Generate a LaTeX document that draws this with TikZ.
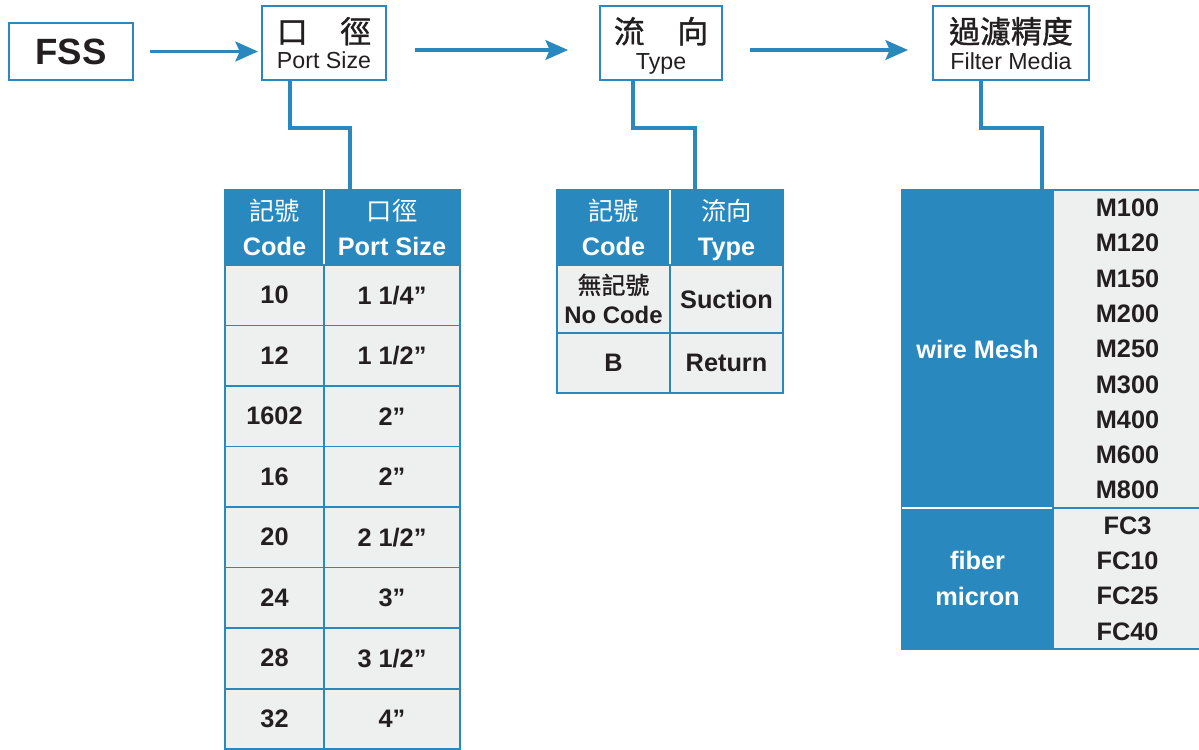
\documentclass[tikz,border=0pt]{standalone}
\usepackage{fontspec}
\setmainfont{Liberation Sans}
\newfontfamily\cjk{Noto Sans CJK TC}
\newfontfamily\cjkb[FakeBold=1.2]{Noto Sans CJK TC}
\usepackage{tikz}
\usetikzlibrary{arrows.meta,positioning}
\definecolor{fsblue}{RGB}{41,137,190}
\definecolor{fsgray}{RGB}{238,239,239}
\definecolor{fsink}{RGB}{35,31,32}
\tikzstyle{codebox} = [rectangle, draw=fsblue, line width=1.7pt, fill=white, text=fsink, align=center, inner sep=0pt, outer sep=0pt, text depth=0pt]
\tikzstyle{arrow} = [line width=2.5pt, -{Stealth[length=16pt,width=14pt,inset=3pt]}, color=fsblue]
\tikzstyle{link} = [line width=2.4pt, color=fsblue]
\tikzstyle{headcell} = [rectangle, draw=fsblue, fill=fsblue, line width=1.4pt, text=white, align=center, inner sep=0pt, outer sep=0pt, text depth=0pt, font=\fontsize{18}{25}\selectfont\bfseries]
\tikzstyle{datacell} = [rectangle, draw=fsblue, fill=fsgray, line width=1.4pt, text=fsink, align=center, inner sep=0pt, outer sep=0pt, font=\fontsize{18}{25}\selectfont\bfseries]

\begin{document}
\begin{tikzpicture}
\useasboundingbox (0,0) rectangle (29.975,-18.725);

% Model code boxes
\node[codebox, minimum width=3.1cm, minimum height=1.425cm, font=\fontsize{26}{30}\selectfont\bfseries] (fss) at (1.775,-1.2875) {FSS};
\node[codebox, minimum width=3.1cm, minimum height=1.85cm, font=\fontsize{16.5}{18.5}\selectfont] (port) at (8.1,-1.075) {{\cjkb\fontsize{22}{22}\selectfont 口\hspace{1.05em}徑}\\Port Size};
\node[codebox, minimum width=3.05cm, minimum height=1.85cm, font=\fontsize{16.5}{18.5}\selectfont] (type) at (16.525,-1.075) {{\cjkb\fontsize{22}{22}\selectfont 流\hspace{1.05em}向}\\Type};
\node[codebox, minimum width=3.9cm, minimum height=1.85cm, font=\fontsize{16.5}{18.5}\selectfont] (filter) at (25.275,-1.075) {{\cjkb\fontsize{22}{22}\selectfont 過濾精度}\\Filter Media};

% Arrows
\draw[arrow, shorten <=0.425cm, shorten >=0.1cm] (fss.east) -- (port.west |- fss.east);
\draw[arrow, shorten <=0.725cm, shorten >=0.8cm] ([yshift=-0.175cm]port.east) -- ([yshift=-0.175cm]type.west);
\draw[arrow, shorten <=0.7cm, shorten >=0.625cm] ([yshift=-0.175cm]type.east) -- ([yshift=-0.175cm]filter.west);

% Port size table
\node[headcell, minimum width=2.475cm, minimum height=1.875cm] (codehead) at (6.8625,-5.6875) {{\cjk\mdseries 記號}\\Code};
\node[headcell, minimum width=3.4cm, minimum height=1.875cm] (sizehead) at (9.8,-5.6875) {{\cjk\mdseries 口徑}\\Port Size};
\draw[white, line width=1.2pt] (codehead.north east) -- (codehead.south east);
\foreach \code/\size [count=\i from 0] in {10/1 1\slash4”,12/1 1\slash2”,1602/2”,16/2”,20/2 1\slash2”,24/3”,28/3 1\slash2”,32/4”} {
  \node[datacell, minimum width=2.475cm, minimum height=1.5125cm] (code\i) at (6.8625,-7.38125-1.5125*\i) {\code};
  \node[datacell, minimum width=3.4cm, minimum height=1.5125cm] (size\i) at (9.8,-7.38125-1.5125*\i) {\size};
}

% Type table
\node[headcell, minimum width=2.825cm, minimum height=1.875cm] (flowcode) at (15.3375,-5.6875) {{\cjk\mdseries 記號}\\Code};
\node[headcell, minimum width=2.825cm, minimum height=1.875cm] (flowhead) at (18.1625,-5.6875) {{\cjk\mdseries 流向}\\Type};
\draw[white, line width=1.2pt] (flowcode.north east) -- (flowcode.south east);
\node[datacell, minimum width=2.825cm, minimum height=1.7cm, font=\fontsize{17}{21.3}\selectfont\bfseries] (nocode) at (15.3375,-7.475) {{\cjkb\mdseries 無記號}\\No Code};
\node[datacell, minimum width=2.825cm, minimum height=1.7cm] (suction) at (18.1625,-7.475) {Suction};
\node[datacell, minimum width=2.825cm, minimum height=1.5cm] (bcode) at (15.3375,-9.075) {B};
\node[datacell, minimum width=2.825cm, minimum height=1.5cm] (return) at (18.1625,-9.075) {Return};

% Filter media table
\node[headcell, minimum width=3.775cm, minimum height=7.95cm] (mesh) at (24.4375,-8.725) {wire Mesh};
\node[headcell, minimum width=3.775cm, minimum height=3.525cm, font=\fontsize{18}{25.5}\selectfont\bfseries] (fiber) at (24.4375,-14.4625) {fiber\\micron};
\draw[white, line width=1.2pt] (mesh.south west) -- (mesh.south east);
\node[datacell, minimum width=3.725cm, minimum height=7.95cm, font=\fontsize{18}{25.1}\selectfont\bfseries] (meshlist) at (28.1875,-8.725) {M100\\M120\\M150\\M200\\M250\\M300\\M400\\M600\\M800};
\node[datacell, minimum width=3.725cm, minimum height=3.525cm, font=\fontsize{18}{25.1}\selectfont\bfseries] (fiberlist) at (28.1875,-14.4625) {FC3\\FC10\\FC25\\FC40};

% Links to tables
\coordinate (porttop) at (8.75,-4.75);
\coordinate (typetop) at (17.375,-4.75);
\coordinate (filtertop) at (26.05,-4.75);
\draw[link] ([xshift=0.7cm]port.south west) -- ++(0,-1.2) -| (porttop);
\draw[link] ([xshift=0.825cm]type.south west) -- ++(0,-1.2) -| (typetop);
\draw[link] ([xshift=1.2cm]filter.south west) -- ++(0,-1.2) -| (filtertop);
\end{tikzpicture}
\end{document}
